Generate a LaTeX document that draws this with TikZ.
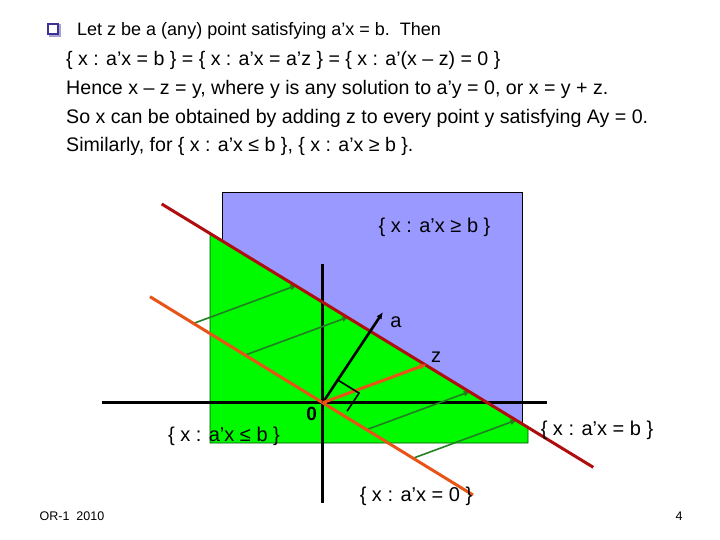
\documentclass[tikz,border=0pt]{standalone}
\usepackage{fontspec}
\setmainfont{Liberation Sans}
\usetikzlibrary{positioning,calc,arrows.meta}
\definecolor{setblue}{RGB}{153,153,255}
\definecolor{setgreen}{RGB}{0,250,0}
\definecolor{hypred}{RGB}{176,14,14}
\definecolor{nullorange}{RGB}{232,84,24}
\definecolor{shiftgreen}{RGB}{34,128,34}
\definecolor{bulletblue}{RGB}{60,50,150}
\tikzset{
  body text/.style={anchor=base west,inner sep=0pt,font=\fontsize{19.6}{22}\selectfont},
  set label/.style={inner sep=0pt,font=\fontsize{20}{22}\selectfont},
  foot text/.style={inner sep=0pt,font=\fontsize{12.5}{14}\selectfont},
  axis line/.style={line width=2.6pt},
  plane line/.style={line width=3pt},
  shift arrow/.style={->,draw=shiftgreen,line width=1.6pt},
}

\begin{document}
\begin{tikzpicture}[x=1pt,y=-1pt,>={Latex[length=7pt,width=6pt]}]
  \useasboundingbox (0,0) rectangle (720,540);
  % regions
  \fill[setblue,draw=black,line width=0.6pt] (222,192) rectangle (522,423);
  \filldraw[fill=setgreen,draw=black!70!green,line width=0.6pt]
    (210,233.5) -- (528,427.5) -- (528,443) -- (210,443) -- cycle;
  % points
  \coordinate (O) at (322.7,402.7);
  \coordinate (A) at (383,312);
  \coordinate (Z) at (426.7,364.3);
  \coordinate (hL) at (161.7,204);
  \coordinate (hR) at (593.3,467.3);
  \coordinate (nL) at (150,296.7);
  \coordinate (nR) at (473,495);
  \coordinate (xL) at (102,402.7);
  \coordinate (xR) at (547,402.7);
  \coordinate (yT) at (322.7,264);
  \coordinate (yB) at (322.7,503);
  % axes
  \draw[axis line] (xL) -- (xR);
  \draw[axis line] (yT) -- (yB);
  % shifted copies of the null space
  \foreach \i/\dx in {1/-129.4,2/-77.7,3/44,4/90.6}{
    \coordinate (g\i) at ($(O)+(\dx,0.612*\dx)$);
    \coordinate (h\i) at ($(g\i)+(104,-38.4)$);
    \draw[shift arrow] (g\i) -- (h\i);
  }
  \draw[plane line,hypred] (hL) -- (hR);
  \draw[plane line,nullorange] (nL) -- (nR);
  % vectors
  \draw[->,line width=2.6pt] (O) -- (A);
  \draw[->,line width=3pt,nullorange] (O) -- (Z);
  \draw[line width=1.6pt] ($(O)!0.25!(A)$) -- ++(21.3,13.1) -- ++(-12,18);
  % labels
  \node[set label] (geq) at (434.5,227) {\{ x : a’x ≥ b \}};
  \node[set label] (alab) at (396,322) {a};
  \node[set label] (zlab) at (436,357) {z};
  \node[set label,font=\fontsize{19}{22}\selectfont\bfseries] (olab) at (311.7,414) {0};
  \node[set label] (leq) at (224,436) {\{ x : a’x ≤ b \}};
  \node[set label] (eqb) at (597,430) {\{ x : a’x = b \}};
  \node[set label] (eq0) at (416,496) {\{ x : a’x = 0 \}};
  % text
  \fill[bulletblue!45] (48.5,24.5) rectangle (61,37);
  \node[draw=bulletblue,line width=1.4pt,fill=white,minimum size=10pt,inner sep=0pt] (bul) at (53,29) {};
  \node[body text,font=\fontsize{18}{22}\selectfont] (t1) at (77,36) {Let z be a (any) point satisfying a’x = b.\ \ Then};
  \node[body text] (t2) at (66,65.5) {\{ x : a’x = b \} = \{ x : a’x = a’z \} = \{ x : a’(x – z) = 0 \}};
  \node[body text] (t3) at (66,95) {Hence x – z = y, where y is any solution to a’y = 0, or x = y + z.};
  \node[body text] (t4) at (66,124) {So x can be obtained by adding z to every point y satisfying Ay = 0.};
  \node[body text] (t5) at (66,152) {Similarly, for \{ x : a’x ≤ b \}, \{ x : a’x ≥ b \}.};
  \node[foot text] (foot) at (72,516) {OR-1\ \ 2010};
  \node[foot text] (page) at (679,516) {4};
\end{tikzpicture}
\end{document}
